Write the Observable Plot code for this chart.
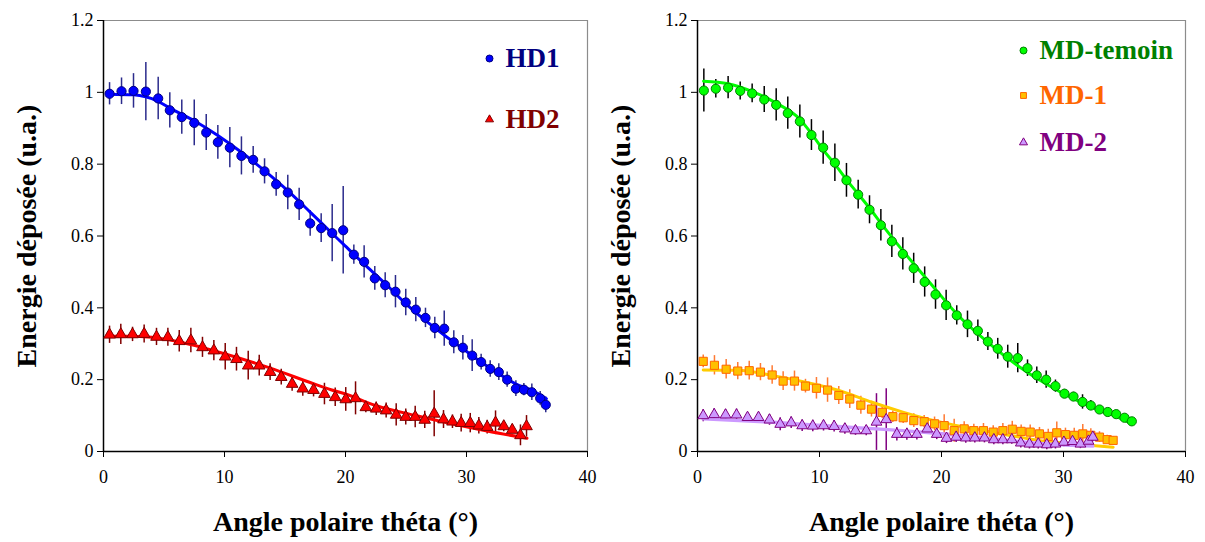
<!DOCTYPE html>
<html>
<head>
<meta charset="utf-8">
<script src="https://cdn.jsdelivr.net/npm/d3@7"></script>
<script src="https://cdn.jsdelivr.net/npm/@observablehq/plot@0.6"></script>
<style>
  html, body { margin: 0; padding: 0; background: #fff; }
  #wrap { display: flex; width: 1205px; height: 542px; }
</style>
</head>
<body>
<div id="wrap"></div>
<script>
// ---------- tick labels / titles ----------
const xTicks = [0, 10, 20, 30, 40];
const yTicks = [0, 0.2, 0.4, 0.6, 0.8, 1, 1.2];
const yTickLabels = ["0", "0.2", "0.4", "0.6", "0.8", "1", "1.2"];
const xTitle = "Angle polaire théta (°)";
const yTitle = "Energie déposée (u.a.)";

// ---------- left panel: HD1 ----------
const hd1X = [0.50,1.49,2.48,3.50,4.52,5.48,6.47,7.50,8.49,9.45,10.44,11.40,12.37,13.31,14.27,15.23,16.17,17.08,17.99,18.90,19.81,20.69,21.54,22.42,23.28,24.13,24.98,25.81,26.61,27.38,28.16,28.95,29.70,30.47,31.21,31.96,32.67,33.36,34.08,34.74,35.40,36.09,36.55];
const hd1Y = [0.996,1.003,1.004,1.002,0.983,0.950,0.931,0.915,0.888,0.861,0.846,0.823,0.812,0.780,0.744,0.721,0.688,0.635,0.622,0.608,0.616,0.548,0.528,0.482,0.463,0.445,0.415,0.395,0.372,0.344,0.342,0.304,0.289,0.267,0.249,0.230,0.221,0.200,0.175,0.172,0.165,0.148,0.130];
const hd1Err = [0.031,0.037,0.048,0.081,0.059,0.049,0.048,0.064,0.050,0.047,0.056,0.053,0.037,0.035,0.033,0.048,0.045,0.036,0.040,0.080,0.122,0.027,0.045,0.033,0.035,0.045,0.037,0.034,0.027,0.030,0.049,0.032,0.034,0.044,0.022,0.023,0.023,0.021,0.022,0.017,0.023,0.019,0.022];
const hd1FitX = [0.5,2.5,4.5,5.5,7.5,9.45,11.4,13.3,15.2,17.1,18.9,19.8,21.5,23.3,25.0,26.6,28.2,29.7,31.2,32.7,34.1,35.4,36.6];
const hd1FitY = [0.995,0.993,0.975,0.956,0.921,0.880,0.833,0.782,0.727,0.666,0.607,0.578,0.523,0.467,0.411,0.365,0.323,0.286,0.249,0.216,0.188,0.170,0.147];

// ---------- left panel: HD2 ----------
const hd2X = [0.50,1.43,2.40,3.36,4.38,5.32,6.26,7.22,8.18,9.12,10.06,10.99,11.96,12.87,13.77,14.69,15.59,16.47,17.36,18.26,19.15,20.02,20.83,21.68,22.54,23.36,24.19,24.98,25.76,26.55,27.33,28.10,28.84,29.56,30.31,31.02,31.71,32.40,33.08,33.78,34.46,34.96];
const hd2Y = [0.325,0.326,0.326,0.327,0.319,0.318,0.307,0.309,0.290,0.281,0.264,0.257,0.239,0.239,0.221,0.207,0.188,0.175,0.171,0.160,0.151,0.145,0.148,0.123,0.119,0.114,0.102,0.096,0.096,0.088,0.105,0.089,0.083,0.079,0.079,0.072,0.068,0.080,0.070,0.060,0.045,0.070];
const hd2Err = [0.024,0.028,0.020,0.025,0.024,0.025,0.030,0.034,0.028,0.028,0.037,0.033,0.040,0.029,0.023,0.022,0.020,0.021,0.019,0.030,0.026,0.033,0.046,0.015,0.019,0.021,0.031,0.022,0.030,0.024,0.064,0.025,0.019,0.025,0.027,0.023,0.019,0.033,0.015,0.010,0.029,0.030];
const hd2FitX = [0.5,2,4,7.2,10,13.8,17.4,18.8,20,22.5,25.8,28.8,31.7,35.0];
const hd2FitY = [0.321,0.321,0.318,0.298,0.272,0.232,0.188,0.172,0.160,0.128,0.100,0.077,0.057,0.037];

// ---------- right panel: MD-temoin ----------
const mdtX = [0.52,1.50,2.51,3.50,4.48,5.47,6.45,7.40,8.39,9.34,10.30,11.26,12.21,13.17,14.10,15.03,15.93,16.83,17.72,18.62,19.51,20.38,21.25,22.13,22.98,23.80,24.61,25.43,26.25,27.05,27.81,28.58,29.34,30.08,30.82,31.56,32.24,32.95,33.63,34.32,35.00,35.60];
const mdtY = [1.005,1.010,1.013,1.004,0.997,0.980,0.965,0.942,0.919,0.881,0.846,0.804,0.755,0.715,0.673,0.630,0.585,0.550,0.510,0.472,0.437,0.407,0.379,0.354,0.336,0.306,0.286,0.264,0.260,0.232,0.212,0.200,0.182,0.161,0.153,0.138,0.128,0.117,0.110,0.104,0.094,0.084];
const mdtErr = [0.060,0.026,0.031,0.025,0.026,0.036,0.045,0.045,0.046,0.043,0.046,0.052,0.047,0.040,0.039,0.044,0.045,0.045,0.042,0.042,0.041,0.042,0.027,0.037,0.030,0.025,0.029,0.032,0.041,0.023,0.023,0.024,0.017,0.012,0.012,0.020,0.014,0.010,0.010,0.010,0.010,0.010];
const mdtFitX = [0.5,2.5,4.5,6.45,8.39,9.34,10.3,11.26,12.21,13.17,14.1,15.03,17,19.1,21.25,23.8,26.25,28.58,30.82,32.95,34.3,35.6];
const mdtFitY = [1.031,1.024,1.002,0.970,0.925,0.885,0.840,0.800,0.757,0.717,0.678,0.636,0.552,0.468,0.383,0.304,0.239,0.188,0.147,0.114,0.098,0.077];

// ---------- right panel: MD-1 ----------
const md1X = [0.47,1.39,2.35,3.30,4.24,5.16,6.12,7.02,7.95,8.85,9.75,10.66,11.58,12.48,13.39,14.26,15.14,16.01,16.86,17.73,18.58,19.43,20.22,21.04,21.86,22.65,23.44,24.24,25.03,25.80,26.53,27.27,28.03,28.75,29.45,30.16,30.88,31.58,32.24,32.95,33.58,34.07];
const md1Y = [0.251,0.240,0.229,0.224,0.225,0.221,0.213,0.196,0.196,0.182,0.176,0.171,0.156,0.146,0.129,0.118,0.109,0.097,0.094,0.086,0.083,0.077,0.072,0.058,0.063,0.058,0.058,0.054,0.058,0.062,0.056,0.054,0.049,0.042,0.052,0.047,0.045,0.049,0.045,0.040,0.033,0.031];
const md1Err = [0.018,0.027,0.027,0.024,0.026,0.024,0.026,0.026,0.028,0.019,0.030,0.034,0.025,0.026,0.025,0.022,0.017,0.016,0.016,0.019,0.017,0.019,0.030,0.032,0.020,0.018,0.020,0.018,0.020,0.022,0.018,0.020,0.018,0.020,0.030,0.018,0.020,0.026,0.018,0.015,0.012,0.010];
const md1FitX = [0.47,3.3,6.1,8.85,11.6,14.3,16.9,19.4,21.9,25,28,30.9,34.07];
const md1FitY = [0.227,0.226,0.212,0.193,0.170,0.137,0.109,0.086,0.068,0.049,0.031,0.021,0.012];

// ---------- right panel: MD-2 ----------
const md2X = [0.47,1.37,2.30,3.20,4.10,5.00,5.90,6.78,7.68,8.58,9.45,10.33,11.20,12.08,12.95,13.83,14.67,15.47,16.34,17.16,17.98,18.83,19.61,20.41,21.20,21.99,22.73,23.52,24.29,25.03,25.76,26.50,27.21,27.93,28.63,29.34,30.03,30.74,31.39,32.05,32.40];
const md2Y = [0.100,0.103,0.102,0.102,0.095,0.095,0.088,0.076,0.080,0.072,0.071,0.072,0.070,0.063,0.058,0.058,0.082,0.089,0.048,0.048,0.048,0.063,0.048,0.037,0.040,0.038,0.038,0.038,0.033,0.033,0.033,0.024,0.021,0.021,0.019,0.021,0.026,0.028,0.021,0.029,0.040];
const md2Err = [0.017,0.016,0.015,0.016,0.013,0.014,0.015,0.018,0.016,0.016,0.016,0.015,0.016,0.015,0.013,0.014,0.079,0.086,0.019,0.017,0.016,0.016,0.015,0.015,0.015,0.015,0.014,0.014,0.014,0.014,0.013,0.014,0.014,0.014,0.014,0.014,0.013,0.013,0.013,0.013,0.013];
const md2FitX = [0.47,5.9,11.2,14.67,19.1,24.3,28.6,32.4];
const md2FitY = [0.091,0.082,0.070,0.063,0.052,0.035,0.021,0.015];

// ---------- helpers ----------
const pts = (xs, ys, es) => xs.map((x, i) => ({x, y: ys[i], e: es[i]}));
const line = (xs, ys) => xs.map((x, i) => ({x, y: ys[i]}));
const FONT = "'Liberation Serif', 'Times New Roman', serif";

function seriesMarks(s) {
  const data = pts(s.x, s.y, s.err);
  return [
    Plot.ruleX(data, {x: "x", y1: d => d.y - d.e, y2: d => d.y + d.e, stroke: s.errColor, strokeWidth: 1.5})
  ];
}
function fitMarks(s) {
  return [Plot.line(line(s.fitX, s.fitY), {x: "x", y: "y", stroke: s.fitColor, strokeWidth: s.fitWidth || 3, curve: "monotone-x"})];
}
function dotMarks(s) {
  return [Plot.dot(pts(s.x, s.y, s.err), {x: "x", y: "y", symbol: s.symbol, r: s.r, fill: s.fill, stroke: s.stroke, strokeWidth: 1})];
}
function legendMarks(s) {
  return [
    Plot.dot([s.label], {frameAnchor: "top-left", dx: s.legDx, dy: s.legDy, symbol: s.symbol, r: s.legR, fill: s.fill, stroke: s.stroke, strokeWidth: 1}),
    Plot.text([s.label], {frameAnchor: "top-left", dx: s.legDx + 16, dy: s.legDy, text: d => d, textAnchor: "start", lineAnchor: "middle", fontSize: 27, fontWeight: "bold", fill: s.textColor, fontFamily: FONT})
  ];
}

function panel({width, marginLeft, marginRight, series}) {
  return Plot.plot({
    width, height: 542,
    marginLeft, marginRight, marginTop: 20, marginBottom: 91,
    style: {fontFamily: FONT, fontSize: "18px", color: "black", background: "white"},
    x: {domain: [0, 40]},
    y: {domain: [0, 1.2]},
    marks: [
      Plot.ruleY([1.2], {stroke: "#8c8c8c", strokeWidth: 1.2}),
      Plot.ruleX([40], {stroke: "#8c8c8c", strokeWidth: 1.2}),
      Plot.axisX({ticks: xTicks, tickSize: 6, tickPadding: 13, tickFormat: d => String(d), label: null, stroke: "black", fill: "black"}),
      Plot.axisY({ticks: yTicks, tickSize: 6, tickPadding: 4, tickFormat: d => yTickLabels[yTicks.indexOf(d)], label: null, stroke: "black", fill: "black"}),
      Plot.ruleY([0], {stroke: "black", strokeWidth: 1.5}),
      Plot.ruleX([0], {stroke: "black", strokeWidth: 1.5}),
      ...series.flatMap(seriesMarks),
      ...series.flatMap(fitMarks),
      ...series.flatMap(dotMarks),
      ...series.flatMap(legendMarks),
      Plot.text([xTitle], {frameAnchor: "bottom", dy: 71, text: d => d, textAnchor: "middle", lineAnchor: "middle", fontSize: 28, fontWeight: "bold", fill: "black", fontFamily: FONT}),
      Plot.text([yTitle], {frameAnchor: "left", dx: -76, dy: 0, rotate: -90, text: d => d, textAnchor: "middle", lineAnchor: "middle", fontSize: 28, fontWeight: "bold", fill: "black", fontFamily: FONT})
    ]
  });
}

const left = panel({
  width: 600, marginLeft: 103, marginRight: 13,
  series: [
    {label: "HD1", x: hd1X, y: hd1Y, err: hd1Err, fitX: hd1FitX, fitY: hd1FitY,
     errColor: "#2b2b8c", fitColor: "#0000ff", symbol: "circle", r: 4.6, fill: "#0000ff", stroke: "#000080",
     legDx: 386, legDy: 38, legR: 3.5, textColor: "#000080"},
    {label: "HD2", x: hd2X, y: hd2Y, err: hd2Err, fitX: hd2FitX, fitY: hd2FitY,
     errColor: "#800000", fitColor: "#ff0000", symbol: "triangle", r: 4.3, fill: "#ff0000", stroke: "#800000",
     legDx: 386, legDy: 99, legR: 3, textColor: "#800000"}
  ]
});

const right = panel({
  width: 605, marginLeft: 97, marginRight: 20,
  series: [
    {label: "MD-temoin", x: mdtX, y: mdtY, err: mdtErr, fitX: mdtFitX, fitY: mdtFitY,
     errColor: "#000000", fitColor: "#00ff00", symbol: "circle", r: 4.6, fill: "#00ff00", stroke: "#008000",
     legDx: 326, legDy: 30, legR: 3.5, textColor: "#008000"},
    {label: "MD-1", x: md1X, y: md1Y, err: md1Err, fitX: md1FitX, fitY: md1FitY,
     errColor: "#ff7a33", fitColor: "#ffcc00", symbol: "square", r: 4.6, fill: "#ffc000", stroke: "#ff6600",
     legDx: 326, legDy: 75, legR: 3.3, textColor: "#ff6600"},
    {label: "MD-2", x: md2X, y: md2Y, err: md2Err, fitX: md2FitX, fitY: md2FitY,
     errColor: "#800080", fitColor: "#cc99ff", fitWidth: 3.5, symbol: "triangle", r: 4, fill: "#cc99ff", stroke: "#800080",
     legDx: 326, legDy: 122, legR: 3, textColor: "#800080"}
  ]
});

document.getElementById("wrap").append(left, right);
</script>
</body>
</html>
